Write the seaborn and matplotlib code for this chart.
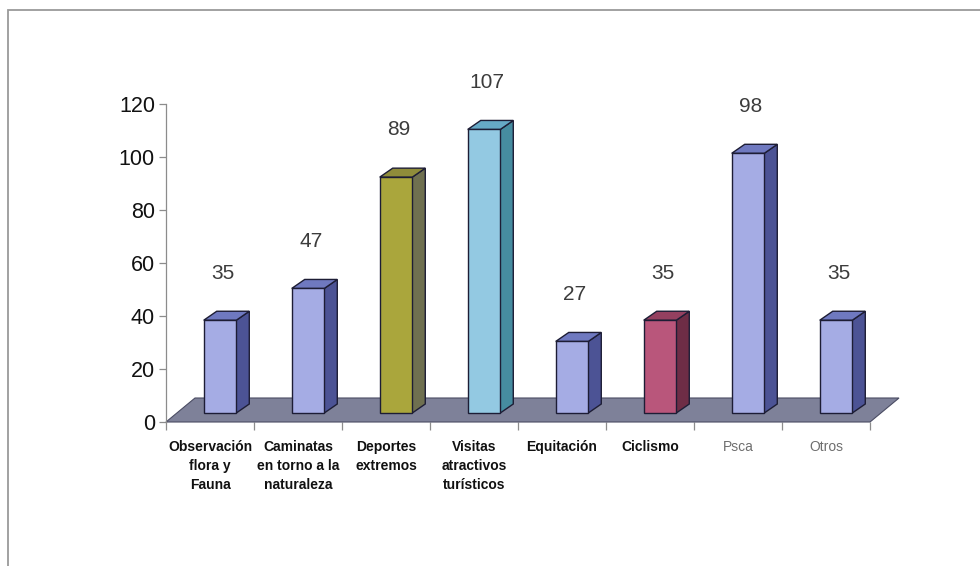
import matplotlib
matplotlib.use("Agg")
import matplotlib.pyplot as plt
from matplotlib.patches import Polygon, Rectangle
from matplotlib.transforms import ScaledTranslation, IdentityTransform
import numpy as np
import pandas as pd
import seaborn as sns

# Activities and number of visitors interested in each
categories = [
    "Observación\nflora y\nFauna",
    "Caminatas\nen torno a la\nnaturaleza",
    "Deportes\nextremos",
    "Visitas\natractivos\nturísticos",
    "Equitación",
    "Ciclismo",
    "Psca",
    "Otros",
]
values = [35, 47, 89, 107, 27, 35, 98, 35]
y_ticks = [0, 20, 40, 60, 80, 100, 120]

# Face colours: front, right side, top
front_colors = ["#A5ACE4", "#A5ACE4", "#AAA63C", "#93C9E2",
                "#A5ACE4", "#B9567B", "#A5ACE4", "#A5ACE4"]
side_colors = ["#4C5395", "#4C5395", "#6F7050", "#468CA0",
               "#4C5395", "#6E2D46", "#4C5395", "#4C5395"]
top_colors = ["#6F79C0", "#6F79C0", "#8F8C3A", "#66A9C6",
              "#6F79C0", "#944060", "#6F79C0", "#6F79C0"]
label_colors = ["#111111"] * 6 + ["#6E6E6E", "#6E6E6E"]
label_weights = ["bold"] * 6 + ["normal", "normal"]

sns.set_style("white")
plt.rcParams["font.family"] = ["Liberation Sans", "DejaVu Sans"]

DPI = 100
W, H = 980, 566
fig = plt.figure(figsize=(W / DPI, H / DPI), dpi=DPI)
fig.patch.set_facecolor("white")

# plot area in pixels: y axis at x=166, zero line at y=422, 120 at y=104
ax = fig.add_axes([166 / W, (H - 422) / H, 704 / W, 318 / H])
ax.set_facecolor("none")

df = pd.DataFrame({"actividad": categories, "total": values})
sns.barplot(data=df, x="actividad", y="total", hue="actividad",
            palette=front_colors, saturation=1, width=0.37,
            edgecolor="#1d1d35", linewidth=1.0, legend=False, ax=ax)

ax.set_xlim(-0.5, len(categories) - 0.5)
ax.set_ylim(0, 120)

# 3-D look: bars stand in the middle of the floor, floor recedes up-right
bar_shift = (10, 9)      # front faces of bars, px
bar_depth = (13, 9)      # bar thickness, px
floor_depth = (29, 24)   # floor thickness, px
edge = "#1d1d35"

to_px = ax.transData.transform
ident = IdentityTransform()

# floor
fl = to_px((-0.5, 0))
fr = to_px((len(categories) - 0.5, 0))
floor = Polygon([fl, fr,
                 (fr[0] + floor_depth[0], fr[1] + floor_depth[1]),
                 (fl[0] + floor_depth[0], fl[1] + floor_depth[1])],
                closed=True, facecolor="#7E8199", edgecolor="#4a4c63",
                linewidth=0.8, transform=ident, clip_on=False, zorder=1)
ax.add_patch(floor)

shift = ScaledTranslation(bar_shift[0] / DPI, bar_shift[1] / DPI,
                          fig.dpi_scale_trans)
bars = list(ax.patches)[: len(values)]
for i, p in enumerate(bars):
    p.set_transform(ax.transData + shift)
    p.set_zorder(4)
    p.set_clip_on(False)
    x0 = p.get_x()
    x1 = x0 + p.get_width()
    h = p.get_height()
    bl = to_px((x0, 0)) + bar_shift
    br = to_px((x1, 0)) + bar_shift
    tl = to_px((x0, h)) + bar_shift
    tr = to_px((x1, h)) + bar_shift
    d = np.array(bar_depth)
    side = Polygon([br, tr, tr + d, br + d], closed=True,
                   facecolor=side_colors[i], edgecolor=edge, linewidth=1.0,
                   transform=ident, clip_on=False, zorder=3)
    top = Polygon([tl, tr, tr + d, tl + d], closed=True,
                  facecolor=top_colors[i], edgecolor=edge, linewidth=1.0,
                  transform=ident, clip_on=False, zorder=3)
    ax.add_patch(side)
    ax.add_patch(top)
    ax.annotate(str(values[i]), xy=(x0 + p.get_width() / 2, h),
                xycoords=ax.transData + shift, xytext=(2, 34),
                textcoords="offset points", ha="center", va="center",
                fontsize=15, color="#3c3c3c", zorder=5,
                annotation_clip=False)

# axes styling
for s in ["top", "right", "bottom"]:
    ax.spines[s].set_visible(False)
ax.spines["left"].set_color("#8c8c8c")
ax.spines["left"].set_linewidth(0.9)

ax.set_yticks(y_ticks)
ax.set_yticklabels([str(t) for t in y_ticks])
ax.tick_params(axis="y", left=True, length=5, width=0.9, color="#8c8c8c",
               pad=3, labelsize=15.5, labelcolor="#111111")

ax.set_xticks(range(len(categories)))
ax.set_xticklabels(categories)
ax.set_xticks(np.arange(-0.5, len(categories), 1), minor=True)
ax.tick_params(axis="x", which="both", bottom=True)
ax.tick_params(axis="x", which="major", length=0, pad=13)
ax.tick_params(axis="x", which="minor", length=6, width=0.9,
               color="#8c8c8c")
for lab, c, w in zip(ax.get_xticklabels(), label_colors, label_weights):
    lab.set_color(c)
    lab.set_fontweight(w)
    lab.set_fontsize(10)
    lab.set_linespacing(1.45)

ax.set_xlabel("")
ax.set_ylabel("")

# chart area border
fig.add_artist(Rectangle((8 / W, -0.1), 1.2, (H - 10) / H + 0.1,
                         transform=fig.transFigure, fill=False,
                         edgecolor="#9a9a9a", linewidth=1.3))

fig.savefig("out.png", dpi=DPI, facecolor="white")
